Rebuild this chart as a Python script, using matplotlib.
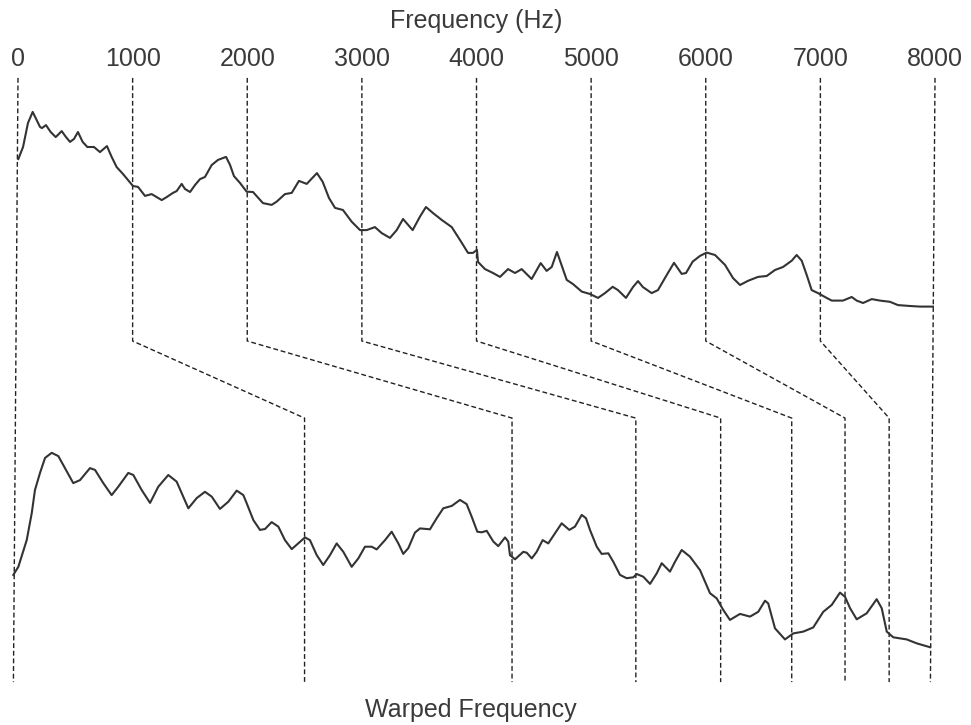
import numpy as np
import matplotlib.pyplot as plt

plt.rcParams['font.family'] = ['Liberation Sans', 'DejaVu Sans']

# frequency ticks (Hz) and where each one lands on the warped axis
freq_ticks = [0, 1000, 2000, 3000, 4000, 5000, 6000, 7000, 8000]
warped_pos = [-40, 2500, 4310, 5390, 6130, 6750, 7215, 7600, 7960]

# original spectrum (Hz, dB)
spec_f = [3, 44, 87, 128, 163, 192, 209, 244, 285, 329, 381, 419, 454, 489, 523,
          564, 605, 663, 715, 776, 817, 861, 916, 1003, 1047, 1108, 1166, 1210,
          1254, 1297, 1352, 1384, 1428, 1457, 1501, 1544, 1588, 1631, 1690, 1745,
          1815, 1850, 1884, 1937, 1995, 2050, 2137, 2213, 2257, 2329, 2388, 2451,
          2519, 2608, 2658, 2713, 2766, 2835, 2911, 2984, 3042, 3114, 3173, 3245,
          3304, 3359, 3443, 3507, 3559, 3620, 3696, 3784, 3856, 3926, 3969, 4004,
          4013, 4074, 4144, 4205, 4275, 4336, 4394, 4481, 4560, 4612, 4656, 4702,
          4787, 4842, 4918, 4990, 5060, 5121, 5188, 5234, 5304, 5365, 5409, 5452,
          5528, 5583, 5659, 5723, 5790, 5828, 5886, 5950, 6008, 6081, 6168, 6238,
          6299, 6369, 6456, 6532, 6604, 6674, 6750, 6793, 6837, 6881, 6924, 6979,
          7040, 7099, 7197, 7273, 7317, 7372, 7448, 7520, 7607, 7677, 7782, 7869,
          7982]
spec_db = [57.0, 61.0, 69.0, 72.7, 70.0, 67.7, 67.3, 68.3, 66.0, 64.3, 66.3, 64.3,
           62.7, 63.7, 66.0, 62.7, 61.0, 61.0, 59.3, 61.3, 57.7, 54.3, 52.0, 48.0,
           47.7, 44.7, 45.3, 44.3, 43.3, 44.3, 45.7, 46.3, 48.7, 47.0, 46.0, 48.3,
           50.3, 51.0, 55.0, 56.7, 57.7, 55.0, 51.3, 49.0, 46.1, 46.0, 42.3, 41.7,
           42.8, 45.3, 45.7, 49.7, 48.7, 52.3, 49.4, 44.0, 40.7, 40.0, 36.1, 33.3,
           33.3, 34.3, 32.3, 30.7, 33.3, 37.0, 33.3, 37.8, 41.0, 39.0, 36.7, 34.3,
           30.0, 25.7, 25.7, 26.7, 22.7, 20.3, 19.0, 17.7, 20.3, 19.0, 20.3, 17.0,
           22.3, 19.7, 21.0, 26.0, 16.7, 15.3, 12.8, 12.0, 10.7, 12.3, 14.4, 13.3,
           10.7, 14.3, 16.3, 14.3, 12.3, 13.3, 18.3, 22.4, 18.7, 19.0, 22.8, 24.7,
           25.8, 25.0, 21.7, 17.3, 15.0, 16.4, 17.7, 18.0, 20.0, 21.0, 23.1, 25.0,
           23.1, 18.3, 13.3, 12.3, 11.0, 9.8, 9.8, 11.0, 9.8, 9.0, 10.3, 9.8, 9.4,
           8.3, 8.0, 7.8, 7.8]

# warped spectrum (position on the same scale, dB)
warp_f = [-41, 3, 76, 120, 148, 192, 236, 294, 352, 410, 482, 541, 628, 672, 744,
          817, 875, 962, 1006, 1079, 1152, 1224, 1311, 1384, 1486, 1559, 1631, 1690,
          1762, 1835, 1908, 1966, 1995, 2053, 2111, 2155, 2213, 2271, 2329, 2388,
          2445, 2504, 2547, 2606, 2663, 2722, 2780, 2838, 2911, 2969, 3027, 3086,
          3129, 3202, 3260, 3318, 3361, 3405, 3463, 3507, 3594, 3653, 3710, 3784,
          3856, 3914, 3958, 4007, 4045, 4089, 4147, 4190, 4249, 4277, 4292, 4336,
          4408, 4438, 4482, 4525, 4577, 4626, 4670, 4743, 4810, 4859, 4918, 4955,
          4990, 5049, 5092, 5150, 5193, 5252, 5310, 5368, 5398, 5455, 5514, 5572,
          5616, 5688, 5732, 5790, 5862, 5950, 6037, 6095, 6153, 6211, 6299, 6386,
          6458, 6517, 6545, 6604, 6691, 6764, 6851, 6938, 7025, 7099, 7171, 7215,
          7259, 7317, 7404, 7491, 7535, 7579, 7636, 7753, 7840, 7956]
warp_db = [31.7, 34.4, 43.3, 52.3, 60.0, 65.7, 70.7, 72.4, 71.3, 67.3, 62.3, 63.3,
           67.3, 66.7, 62.3, 58.3, 61.1, 65.7, 65.0, 60.0, 55.7, 61.1, 65.0, 62.8,
           53.9, 57.3, 59.4, 57.8, 53.7, 56.1, 59.8, 58.3, 55.6, 50.0, 46.7, 47.0,
           49.3, 47.8, 43.3, 40.3, 42.2, 44.2, 43.3, 38.3, 35.0, 38.3, 42.2, 39.4,
           34.4, 37.2, 41.1, 41.1, 40.2, 43.3, 46.1, 42.2, 38.7, 40.6, 45.8, 47.2,
           46.9, 50.6, 53.9, 54.7, 56.7, 55.3, 51.1, 46.1, 45.9, 46.4, 42.8, 41.3,
           44.2, 42.8, 38.3, 36.9, 39.4, 39.1, 37.2, 39.4, 43.3, 42.2, 44.7, 48.9,
           46.7, 47.8, 51.7, 50.6, 46.7, 41.1, 38.7, 38.9, 36.1, 31.7, 30.6, 30.9,
           32.0, 31.1, 28.7, 32.2, 35.6, 32.8, 36.1, 40.0, 37.8, 33.3, 25.6, 23.9,
           20.0, 16.7, 18.7, 17.8, 19.4, 23.1, 22.2, 13.9, 10.2, 12.2, 12.8, 14.2,
           19.4, 21.7, 25.8, 24.4, 20.6, 16.9, 18.9, 23.6, 20.6, 12.8, 10.9, 10.2,
           8.9, 7.6]

# vertical layout of the two panels
top_off, bot_off = 131.67, 18.33
y_top, y_k1, y_k2, y_bot = 215.7, 128.0, 102.3, 14.3

fig = plt.figure(figsize=(9.71, 7.25), dpi=100)
ax = fig.add_axes([0, 0, 1, 1])
ax.set_xlim(-157, 8314)
ax.set_ylim(0, 241.67)
ax.axis('off')

dash = dict(color='#222222', lw=1.0, ls=(0, (3.5, 2)))
# dashed mapping lines from each tick down to its warped position
for i, (f, w) in enumerate(zip(freq_ticks, warped_pos)):
    if i in (0, len(freq_ticks) - 1):
        # the two ends just run straight down
        ax.plot([f, w], [y_top, y_bot], **dash)
    else:
        ax.plot([f, f, w, w], [y_top, y_k1, y_k2, y_bot], **dash)
    ax.text(f, 219.7, str(f), ha='center', va='baseline', fontsize=18,
            color='#3a3a3a')

ax.plot(spec_f, np.array(spec_db) + top_off, color='#333333', lw=1.5,
        solid_joinstyle='round')
ax.plot(warp_f, np.array(warp_db) + bot_off, color='#333333', lw=1.5,
        solid_joinstyle='round')

ax.text(4000, 232.3, 'Frequency (Hz)', ha='center', va='baseline',
        fontsize=18, color='#3a3a3a')
ax.text(3950, 2.7, 'Warped Frequency', ha='center', va='baseline',
        fontsize=18, color='#3a3a3a')

plt.savefig('out.png', dpi=100)
